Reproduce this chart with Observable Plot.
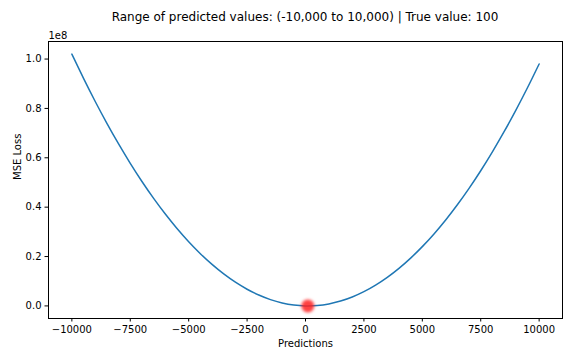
<!DOCTYPE html>
<html>
<head>
<meta charset="utf-8">
<script src="https://cdn.jsdelivr.net/npm/d3@7"></script>
<script src="https://cdn.jsdelivr.net/npm/@observablehq/plot@0.6"></script>
<style>
  body { margin: 0; background: #fff; }
  #wrap { width: 576px; height: 360px; font-family: "DejaVu Sans", sans-serif; }
  #title { height: 30px; position: relative; font-size: 12px; color: #000; }
  #title span { position: absolute; left: 305px; top: 10px; transform: translateX(-50%); white-space: nowrap; }
</style>
</head>
<body>
<div id="wrap">
  <div id="title"><span>Range of predicted values: (-10,000 to 10,000) | True value: 100</span></div>
  <div id="chart"></div>
</div>
<script>
// Predictions (x) and MSE loss (in millions)
const predictions = [-10000,-9500,-9000,-8500,-8000,-7500,-7000,-6500,-6000,-5500,-5000,-4500,-4000,-3500,-3000,-2500,-2000,-1500,-1000,-500,0,500,1000,1500,2000,2500,3000,3500,4000,4500,5000,5500,6000,6500,7000,7500,8000,8500,9000,9500,10000];
const lossMillions = [102.01,92.16,82.81,73.96,65.61,57.76,50.41,43.56,37.21,31.36,26.01,21.16,16.81,12.96,9.61,6.76,4.41,2.56,1.21,0.36,0.01,0.16,0.81,1.96,3.61,5.76,8.41,11.56,15.21,19.36,24.01,29.16,34.81,40.96,47.61,54.76,62.41,70.56,79.21,88.36,98.01];
const trueValue = [100];
const trueLoss = [0];
const xTicks = [-10000,-7500,-5000,-2500,0,2500,5000,7500,10000];
const yTicks = [0,0.2e8,0.4e8,0.6e8,0.8e8,1.0e8];

const data = predictions.map((p, i) => ({x: p, y: lossMillions[i] * 1e6}));
const truth = trueValue.map((v, i) => ({x: v, y: trueLoss[i]}));

const chart = Plot.plot({
  width: 576,
  height: 330,
  marginTop: 11,
  marginBottom: 42,
  marginLeft: 48,
  marginRight: 14,
  style: {fontFamily: "DejaVu Sans, sans-serif", fontSize: "10px", color: "#000", background: "#fff"},
  x: {domain: [-11000, 11000]},
  y: {domain: [-0.051e8, 1.0711e8]},
  marks: [
    Plot.line(data, {x: "x", y: "y", stroke: "#1f77b4", strokeWidth: 1.5, curve: "natural"}),
    Plot.dot(truth, {x: "x", y: "y", r: 6.5, fill: "#ff2020", fillOpacity: 0.85, stroke: "none", imageFilter: "blur(1.6px)"}),
    Plot.frame({stroke: "#000", strokeWidth: 1}),
    Plot.axisX({ticks: xTicks, tickSize: 3.5, tickPadding: 3.5, label: null,
      tickFormat: d => d < 0 ? "\u2212" + Math.abs(d) : String(d)}),
    Plot.axisY({ticks: yTicks, tickSize: 3.5, tickPadding: 3.5, label: null,
      tickFormat: d => (d / 1e8).toFixed(1)}),
    Plot.text(["1e8"], {frameAnchor: "top-left", textAnchor: "start", lineAnchor: "bottom", dy: -3}),
    Plot.text(["Predictions"], {frameAnchor: "bottom", lineAnchor: "middle", dy: 25}),
    Plot.text(["MSE Loss"], {frameAnchor: "left", rotate: -90, lineAnchor: "middle", dx: -31})
  ]
});
document.getElementById("chart").appendChild(chart);
</script>
</body>
</html>
